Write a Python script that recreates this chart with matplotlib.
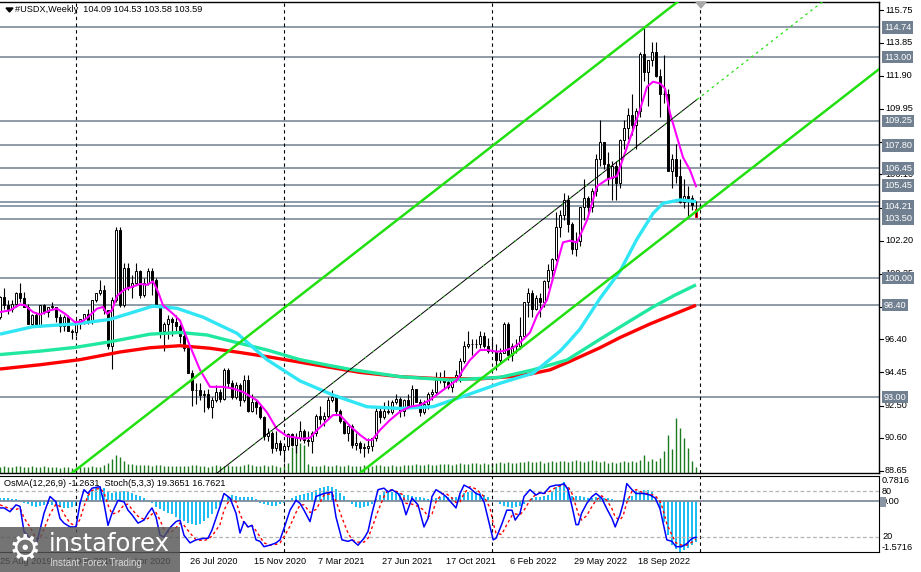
import matplotlib
matplotlib.use('Agg')
import matplotlib.pyplot as plt
import numpy as np
from matplotlib.patches import Rectangle, Polygon
from matplotlib.lines import Line2D
from matplotlib.transforms import blended_transform_factory

plt.rcParams['font.family'] = ['Liberation Sans', 'DejaVu Sans']

# ---- weekly candles, bar 0 = week of 25 Aug 2019 ----
opens = [
    97.7, 98.9, 98.4, 98.2, 98.5, 99.1, 98.8, 98.3, 97.3, 97.8,
    97.2, 98.4, 98.0, 98.3, 98.3, 97.7, 97.2, 97.7, 96.9, 96.8,
    97.4, 97.6, 97.9, 97.4, 98.7, 99.1, 99.3, 98.1, 96.0, 98.7,
    102.8, 98.4, 100.6, 99.5, 99.7, 100.4, 99.0, 99.7, 100.4, 99.9,
    98.3, 96.9, 97.3, 97.6, 97.4, 97.2, 96.6, 95.9, 94.4, 93.4,
    93.4, 93.1, 93.2, 92.4, 92.8, 93.3, 92.9, 94.6, 93.8, 93.0,
    93.7, 92.8, 94.0, 92.2, 92.7, 92.4, 91.8, 90.7, 90.9, 90.0,
    90.3, 89.9, 90.1, 90.8, 90.2, 90.6, 91.0, 90.5, 90.4, 90.9,
    91.9, 91.7, 91.9, 92.8, 93.0, 92.2, 91.6, 90.9, 91.3, 90.2,
    90.3, 90.0, 90.0, 90.1, 90.6, 92.2, 91.8, 92.2, 92.1, 92.7,
    92.9, 92.2, 92.8, 92.5, 93.5, 92.7, 92.1, 92.6, 93.2, 93.3,
    94.0, 94.1, 93.9, 93.6, 94.1, 94.3, 95.1, 96.0, 96.1, 96.1,
    96.1, 96.6, 96.0, 95.7, 95.7, 95.2, 95.6, 97.3, 95.5, 96.0,
    96.0, 96.6, 98.6, 99.1, 98.2, 98.8, 98.6, 99.8, 100.5, 101.1,
    103.0, 103.7, 104.6, 103.2, 101.7, 102.2, 104.2, 104.7, 104.2, 105.1,
    107.0, 108.0, 106.7, 105.9, 106.6, 105.6, 108.1, 108.8, 109.6, 109.0,
    109.8, 113.2, 112.1, 112.8, 113.3, 111.9, 110.8, 110.8, 106.3, 107.0,
    106.0, 104.5, 104.8, 104.7, 104.09]
highs = [
    98.95, 99.4, 98.7, 98.7, 99.2, 99.7, 99.2, 98.5, 97.9, 98.0,
    98.4, 98.5, 98.3, 98.6, 98.3, 97.9, 97.8, 97.8, 97.0, 97.6,
    97.6, 97.9, 98.2, 98.7, 99.1, 99.9, 99.6, 98.1, 98.9, 103.0,
    103.0, 100.9, 100.9, 100.2, 100.9, 100.5, 100.0, 100.6, 100.6, 100.0,
    98.4, 97.4, 97.8, 97.7, 97.8, 97.3, 96.9, 96.0, 94.6, 93.8,
    93.8, 93.4, 93.5, 93.0, 93.7, 93.5, 94.7, 94.7, 94.0, 93.9,
    93.8, 94.3, 94.3, 93.2, 92.8, 92.6, 91.9, 91.2, 91.0, 91.0,
    90.5, 90.1, 90.9, 90.9, 90.9, 91.6, 91.1, 91.0, 91.0, 92.0,
    92.5, 92.1, 93.0, 93.4, 93.0, 92.3, 91.7, 91.3, 91.4, 90.9,
    90.4, 90.3, 90.6, 90.6, 92.4, 92.4, 92.7, 92.8, 92.8, 93.2,
    93.0, 92.9, 93.2, 93.7, 93.5, 92.9, 92.8, 93.3, 93.5, 94.5,
    94.5, 94.6, 94.1, 94.2, 94.6, 95.3, 96.3, 96.9, 96.4, 96.4,
    96.9, 96.8, 96.5, 96.5, 96.1, 95.9, 97.4, 97.4, 96.2, 96.4,
    97.7, 98.6, 99.4, 99.3, 99.0, 99.1, 99.9, 100.8, 101.2, 103.9,
    104.0, 105.0, 104.9, 103.3, 102.7, 104.2, 105.8, 104.8, 105.3, 107.3,
    109.3, 108.0, 107.4, 106.9, 106.9, 108.2, 109.3, 110.0, 110.8, 110.0,
    113.3, 114.78, 112.8, 113.9, 113.9, 112.3, 113.1, 111.1, 107.3, 107.9,
    107.0, 105.8, 105.4, 104.9, 104.53]
lows = [
    97.6, 98.2, 97.9, 98.0, 98.3, 98.6, 98.3, 97.3, 97.2, 97.1,
    97.1, 97.9, 97.7, 98.2, 97.4, 96.8, 96.9, 96.9, 96.4, 96.6,
    97.0, 97.3, 97.3, 97.3, 98.6, 99.0, 97.9, 95.8, 94.65, 98.6,
    98.3, 98.3, 99.3, 98.8, 99.6, 98.8, 98.9, 99.6, 99.0, 98.3,
    96.5, 95.7, 96.4, 96.6, 96.8, 96.2, 95.7, 94.4, 92.5, 92.6,
    92.8, 92.1, 92.3, 91.75, 92.7, 92.7, 92.8, 93.6, 92.9, 92.9,
    92.5, 92.7, 92.1, 92.1, 92.0, 91.7, 90.5, 90.4, 89.7, 89.8,
    89.6, 89.2, 89.9, 90.1, 89.7, 90.4, 90.3, 90.1, 89.7, 90.7,
    91.4, 91.3, 91.7, 92.7, 92.0, 91.5, 90.8, 90.4, 90.0, 89.9,
    89.7, 89.5, 89.7, 89.8, 90.4, 91.5, 91.7, 92.0, 92.0, 92.6,
    91.8, 91.9, 92.5, 92.5, 92.7, 91.9, 92.0, 92.3, 92.8, 93.2,
    93.8, 93.5, 93.5, 93.3, 93.9, 93.9, 95.0, 95.9, 95.5, 95.9,
    95.9, 95.9, 95.6, 95.6, 94.6, 95.0, 95.6, 95.2, 95.1, 95.6,
    95.8, 96.6, 97.7, 97.7, 98.1, 97.7, 98.3, 99.4, 99.8, 101.0,
    102.4, 103.4, 102.7, 101.4, 101.3, 101.9, 103.4, 103.8, 103.9, 104.8,
    106.6, 106.4, 105.5, 104.6, 104.6, 105.3, 107.6, 108.2, 108.4, 107.6,
    109.5, 111.6, 110.1, 112.5, 111.8, 109.5, 110.3, 106.3, 105.3, 105.6,
    104.4, 104.1, 103.6, 104.0, 103.58]
closes = [
    98.9, 98.4, 98.2, 98.5, 99.1, 98.8, 98.3, 97.3, 97.8, 97.2,
    98.4, 98.0, 98.3, 98.3, 97.7, 97.2, 97.7, 96.9, 96.8, 97.4,
    97.6, 97.9, 97.4, 98.7, 99.1, 99.3, 98.1, 96.0, 98.7, 102.8,
    98.4, 100.6, 99.5, 99.7, 100.4, 99.0, 99.7, 100.4, 99.9, 98.3,
    96.9, 97.3, 97.6, 97.4, 97.2, 96.6, 95.9, 94.4, 93.4, 93.4,
    93.1, 93.2, 92.4, 92.8, 93.3, 92.9, 94.6, 93.8, 93.0, 93.7,
    92.8, 94.0, 92.2, 92.7, 92.4, 91.8, 90.7, 90.9, 90.0, 90.3,
    89.9, 90.1, 90.8, 90.2, 90.6, 91.0, 90.5, 90.4, 90.9, 91.9,
    91.7, 91.9, 92.8, 93.0, 92.2, 91.6, 90.9, 91.3, 90.2, 90.3,
    90.0, 90.0, 90.1, 90.6, 92.2, 91.8, 92.2, 92.1, 92.7, 92.9,
    92.2, 92.8, 92.5, 93.5, 92.7, 92.1, 92.6, 93.2, 93.3, 94.0,
    94.1, 93.9, 93.6, 94.1, 94.3, 95.1, 96.0, 96.1, 96.1, 96.1,
    96.6, 96.0, 95.7, 95.7, 95.2, 95.6, 97.3, 95.5, 96.0, 96.0,
    96.6, 98.6, 99.1, 98.2, 98.8, 98.6, 99.8, 100.5, 101.1, 103.0,
    103.7, 104.6, 103.2, 101.7, 102.2, 104.2, 104.7, 104.2, 105.1, 107.0,
    108.0, 106.7, 105.9, 106.6, 105.6, 108.1, 108.8, 109.6, 109.0, 109.8,
    113.2, 112.1, 112.8, 113.3, 111.9, 110.8, 110.8, 106.3, 107.0, 106.0,
    104.5, 104.8, 104.7, 104.3, 103.59]
volume = [
    6, 7, 6, 6, 7, 7, 6, 6, 7, 6, 6, 7, 6, 6, 6, 5, 6, 6, 5, 6,
    6, 6, 6, 7, 6, 6, 8, 10, 14, 18, 16, 12, 9, 9, 8, 8, 8, 8, 7, 8,
    8, 7, 7, 7, 7, 7, 7, 7, 8, 8, 7, 7, 6, 7, 8, 7, 7, 8, 7, 7,
    7, 8, 9, 8, 7, 7, 8, 7, 8, 7, 6, 7, 10, 26, 30, 30, 28, 9, 7, 7,
    7, 8, 7, 7, 8, 7, 7, 8, 7, 7, 7, 8, 7, 7, 8, 8, 7, 7, 8, 7,
    7, 8, 8, 8, 9, 8, 8, 9, 8, 8, 9, 9, 9, 8, 9, 10, 9, 9, 10, 10,
    9, 10, 9, 10, 10, 11, 10, 11, 10, 10, 11, 11, 12, 11, 11, 12, 10, 11, 12, 11,
    12, 12, 11, 12, 13, 12, 11, 12, 13, 12, 11, 12, 10, 11, 10, 11, 12, 11, 12, 11,
    13, 18, 12, 14, 12, 15, 22, 38, 24, 55, 45, 35, 25, 12, 6]

# ---- moving averages (bar, value) ----
ma_fast_bar = [0, 2.5, 5, 6.25, 8.25, 10, 12.5, 14.25, 16.25, 18.75, 20.5, 22, 24.25, 25.75,
               26.75, 28, 29.25, 31.25, 33.25, 35, 36.75, 38.25, 39.5, 40.75, 43.25, 45, 47.5,
               50, 52.5, 55.75, 58.25, 60.75, 64.25, 66.75, 69.25, 71.75, 75.75, 77.5, 79.25,
               81.25, 83.25, 85, 87.5, 90, 91.75, 93, 95, 97.5, 100, 102.5, 105, 107.5, 110.75,
               114.25, 115.75, 117.5, 120, 121.75, 124.25, 125.75, 128.25, 130, 132.5, 134.25,
               136.75, 138.25, 140.75, 142.5, 144.25, 146.75, 149.25, 151.75, 154.25, 156.75,
               158.25, 160, 161.75, 163.25, 165, 166.25, 167.5, 169.25, 170.75, 172.5, 174]
ma_fast_val = [98.0, 98.1, 98.45, 98.4, 98.0, 97.85, 98.1, 98.2, 97.9, 97.4, 97.45, 97.7, 98.2,
               98.3, 97.9, 98.1, 98.95, 99.35, 99.5, 99.65, 99.6, 99.8, 99.2, 98.4, 97.9, 97.5,
               96.0, 94.6, 93.6, 93.6, 93.5, 93.3, 92.8, 92.1, 91.1, 90.7, 90.55, 90.6, 91.05,
               91.5, 91.94, 91.94, 91.3, 90.77, 90.47, 90.47, 91.06, 91.65, 92.14, 92.43, 92.53,
               92.83, 93.41, 94.0, 94.6, 95.18, 95.77, 95.77, 95.67, 95.7, 95.9, 96.2, 96.8,
               97.8, 98.7, 100.0, 102.1, 102.2, 102.1, 103.4, 105.4, 105.8, 106.0, 107.7, 108.7,
               109.9, 111.25, 111.55, 111.45, 111.15, 109.7, 108.3, 107.1, 106.35, 105.4]
ma50_bar = [0, 8.25, 18.75, 27.5, 38.25, 44.25, 50.75, 59.25, 66.75, 75, 83.25, 91.75, 100,
            108.25, 116.75, 125, 133.25, 140, 142, 145, 147.5, 150, 155, 159.25, 163.25,
            165.75, 170, 174]
ma50_val = [96.7, 97.14, 97.3, 97.57, 98.35, 98.22, 97.7, 96.75, 95.2, 93.95, 93.12, 92.43,
            92.33, 92.43, 93.12, 93.81, 94.4, 95.7, 96.2, 97.0, 97.9, 98.8, 100.4, 102.3,
            103.8, 104.4, 104.6, 104.5]
ma144_bar = [0, 10, 18.75, 27.5, 37.5, 45, 51.75, 58.25, 66.75, 75, 82.5, 87.5, 100, 112.5,
             125, 133.25, 141.75, 150, 156.25, 163.25, 168.75, 174]
ma144_val = [95.5, 95.7, 95.92, 96.25, 96.7, 96.8, 96.65, 96.26, 95.77, 95.2, 94.85, 94.63,
             94.2, 94.0, 94.16, 94.6, 95.18, 96.4, 97.3, 98.3, 99.0, 99.6]
ma200_bar = [0, 10, 20, 30, 37.5, 45, 52.5, 60, 67.5, 75, 82.5, 90, 100, 110, 120, 127.5,
             132.5, 137.5, 142.5, 150, 155, 162.5, 168.75, 174]
ma200_val = [94.65, 94.9, 95.2, 95.65, 95.9, 96.02, 95.87, 95.62, 95.35, 95.05, 94.75, 94.45,
             94.2, 94.08, 94.07, 94.2, 94.35, 94.6, 95.1, 95.9, 96.5, 97.3, 97.9, 98.4]

# ---- equidistant channel anchors (bar, price) ----
chan_upper = ([30, 160], [90.73, 114.53])
chan_mid = ([70, 174], [91.41, 110.46])
chan_lower = ([100, 174], [90.36, 103.91])
chan_mid_end = 174.25

# ---- horizontal levels ----
levels = [114.74, 113.00, 109.25, 107.80, 106.45, 105.45, 104.45, 104.21, 103.50, 100.00, 98.40, 93.00]
level_tagged = [True, True, True, True, True, True, False, True, True, True, True, True]
price_ticks = [88.65, 90.60, 92.50, 94.45, 96.40, 98.30, 100.25, 102.20, 104.15, 106.10,
               108.00, 109.95, 111.90, 113.85, 115.75]

year_bars = [19, 71, 123, 175]
date_bars = [0, 16, 32, 48, 64, 80, 96, 112, 128, 144, 160]
date_labels = ['25 Aug 2019', '15 Dec 2019', '5 Apr 2020', '26 Jul 2020', '15 Nov 2020',
               '7 Mar 2021', '27 Jun 2021', '17 Oct 2021', '6 Feb 2022', '29 May 2022',
               '18 Sep 2022']

# ---- OsMA histogram and stochastic ----
osma = [
    0.09, 0.10, 0.09, 0.08, 0.07, 0.04,
    -0.05, -0.10, -0.15, -0.18, -0.16, -0.12, -0.10, -0.12, -0.15, -0.18, -0.20, -0.20, -0.18, -0.14, -0.10,
    0.05, 0.20, 0.32, 0.40, 0.45, 0.42, 0.30,
    0.25, 0.28, 0.32, 0.33, 0.30, 0.26,
    0.20, 0.15, 0.10, 0.05,
    -0.05, -0.18, -0.25,
    -0.30, -0.35, -0.40, -0.48, -0.55, -0.62, -0.68,
    -0.72, -0.73, -0.70, -0.62, -0.52, -0.40, -0.25, -0.12,
    0.05, 0.15, 0.18, 0.17, 0.14,
    0.14, 0.12, 0.12, 0.08,
    -0.05, -0.10, -0.13, -0.15, -0.14, -0.10, -0.05,
    0.05, 0.10, 0.15, 0.20, 0.22, 0.25, 0.30, 0.35, 0.40, 0.44, 0.47, 0.45, 0.38,
    0.25, 0.15, 0.05,
    -0.10, -0.17, -0.20, -0.19, -0.15, -0.08,
    0.08, 0.20, 0.28, 0.30, 0.30, 0.27,
    0.24, 0.20, 0.18, 0.15, 0.14, 0.12, 0.10, 0.08, 0.08,
    0.10, 0.14, 0.15, 0.14, 0.12, 0.12,
    0.20, 0.26, 0.30, 0.30, 0.28, 0.25,
    0.20, 0.12, 0.05, -0.02,
    -0.10, -0.15, -0.18, -0.20, -0.18, -0.15, -0.08,
    0.05, 0.10, 0.12, 0.13,
    0.15, 0.20, 0.30, 0.45, 0.52, 0.60, 0.45,
    0.15, 0.15, 0.15, 0.13, 0.11, 0.10, 0.12, 0.12, 0.10, 0.10, 0.08, 0.05, 0.04,
    0.08, 0.10, 0.15, 0.32,
    0.33, 0.35, 0.34, 0.30, 0.12,
    -0.25, -0.65, -1.05, -1.35, -1.48, -1.57, -1.52, -1.45, -1.36, -1.2631]

stoch_bar = [0, 1, 2.5, 4, 5, 6, 7.5, 9, 10, 11, 12.5, 14, 15, 16, 17.5, 19, 20, 21, 22, 23, 25,
             26, 27, 28, 29.5, 31, 32, 33, 34.5, 36, 37, 38, 39, 40, 41, 42.5, 44, 45, 46, 47.5,
             49, 51, 52, 53, 55, 56, 57.5, 59, 60, 61, 62, 63, 64, 65, 66, 67.5, 69, 70, 71,
             72.5, 74, 75, 76, 77.5, 79, 80, 81, 83, 84, 85.5, 87, 88, 89.5, 91, 92, 93, 94.5,
             96, 97, 98, 99.5, 100.5, 101.5, 103, 104.5, 106, 107, 108, 109, 110.5, 111.5, 113,
             114, 115, 116, 117.5, 119, 120, 121, 122.5, 123.3, 124, 125.4, 126.7, 128, 128.8,
             130, 131, 132.5, 134, 135, 136, 137.5, 139, 140, 141, 142, 143, 144, 144.6, 145.4,
             146.7, 148, 149, 150.4, 151.7, 153, 153.8, 155, 155.8, 156.7, 158, 159, 160.8,
             162.5, 163.8, 165, 165.8, 166.7, 168, 169, 170.4, 171.7, 173, 174]
stoch_main = [58, 58, 53, 62, 60, 27, 18, 9, 29, 51, 73, 66, 44, 38, 33, 33, 64, 82, 77, 84, 86,
              64, 35, 51, 68, 66, 55, 49, 38, 42, 51, 58, 46, 22, 20, 32, 40, 42, 22, 12,
              16, 18, 18, 29, 60, 77, 71, 51, 25, 40, 33, 35, 16, 14, 7, 9, 12, 16, 31,
              55, 68, 64, 55, 40, 73, 75, 77, 79, 46, 16, 14, 16, 9, 18, 27, 51, 82,
              84, 79, 82, 77, 68, 49, 71, 62, 33, 44, 73, 82, 77, 73, 64,
              58, 77, 88, 84, 77, 75, 66, 33, 16, 18, 36, 55, 55, 42,
              51, 73, 82, 75, 78, 77, 86, 88, 88, 90, 82, 60, 36, 36, 51,
              64, 73, 77, 71, 57, 44, 33, 49, 64, 90, 82, 77, 77,
              75, 71, 57, 38, 16, 14, 7, 7, 11, 18, 19.37]
stoch_sig = [62, 60, 57, 56, 58, 45, 33, 18, 18, 30, 50, 63, 60, 50, 38, 34, 43, 60, 74, 81, 84,
             78, 62, 50, 52, 62, 63, 56, 47, 43, 44, 50, 52, 42, 30, 25, 32, 38, 35, 25,
             16, 15, 17, 21, 36, 55, 70, 66, 50, 38, 33, 35, 28, 20, 12, 9, 10, 12, 20,
             34, 52, 62, 62, 52, 56, 65, 75, 77, 67, 45, 25, 16, 13, 13, 18, 32, 54,
             73, 82, 81, 79, 76, 64, 63, 60, 55, 46, 50, 66, 77, 77, 71,
             65, 66, 77, 86, 83, 78, 73, 58, 38, 25, 23, 36, 48, 50,
             49, 55, 68, 76, 78, 77, 80, 85, 87, 88, 86, 77, 60, 50, 42,
             48, 60, 68, 74, 68, 57, 46, 42, 48, 65, 80, 82, 78,
             76, 74, 67, 55, 37, 22, 12, 9, 9, 13, 16.76]

# ---------------------------------------------------------------------------
W, H = 921, 572
fig = plt.figure(figsize=(W / 100, H / 100), dpi=100)
fig.patch.set_facecolor('white')


def fx(px):
    return px / W


def fy(py):
    return 1 - py / H


XMIN, XMAX = 0, 219.75
main_rect = [0, fy(473), fx(879), (473 - 2) / H]
ind_rect = [0, fy(552), fx(879), (552 - 476) / H]
LEVEL_GRAY = '#708090'
FS = 6.6

# volume underneath everything in the main window
ax_vol = fig.add_axes(main_rect)
ax_vol.set_xlim(XMIN, XMAX)
ax_vol.set_ylim(0, max(volume) * 8.6)
ax_vol.axis('off')
idx = np.arange(len(closes))
ax_vol.vlines(idx, 0, volume, color='#1E7A1E', lw=1.0)

ax = fig.add_axes(main_rect)
ax.patch.set_alpha(0)
ax.set_xlim(XMIN, XMAX)
ax.set_ylim(88.532, 116.24)
ax.set_xticks([])
ax.set_yticks([])
ax.spines['left'].set_visible(False)
for s in ['top', 'right', 'bottom']:
    ax.spines[s].set_color('black')
    ax.spines[s].set_linewidth(1)

for lev in levels:
    ax.axhline(lev, color=LEVEL_GRAY, lw=1.1, zorder=1)
for b in year_bars:
    ax.axvline(b, color='black', lw=0.8, ls=(0, (3, 3)), zorder=2)

# candles
o, hi, lo, c = map(np.array, (opens, highs, lows, closes))
ax.vlines(idx, lo, hi, color='black', lw=0.8, zorder=3)
up = c >= o
body_bottom = np.minimum(o, c)
body_height = np.maximum(np.abs(c - o), 0.04)
edge = ['black'] * len(idx)
edge[-1] = 'red'
ax.bar(idx, body_height, bottom=body_bottom, width=0.62,
       color=np.where(up, 'white', 'black'), edgecolor=edge, linewidth=0.7, zorder=3)

# moving averages
ax.plot(ma200_bar, ma200_val, color='#FF0000', lw=2.4, zorder=4, solid_capstyle='butt')
ax.plot(ma144_bar, ma144_val, color='#20E8A0', lw=2.4, zorder=4, solid_capstyle='butt')
ax.plot(ma50_bar, ma50_val, color='#30E6F5', lw=2.4, zorder=4, solid_capstyle='butt')
ax.plot(ma_fast_bar, ma_fast_val, color='#FF00FF', lw=1.5, zorder=5)


def chan_line(anchor, x0, x1):
    (b1, b2), (p1, p2) = anchor
    k = (p2 - p1) / (b2 - b1)
    return [x0, x1], [p1 + k * (x0 - b1), p1 + k * (x1 - b1)]


CH_GREEN = '#22E010'
xs, ys = chan_line(chan_upper, XMIN, XMAX)
ax.plot(xs, ys, color=CH_GREEN, lw=1.8, zorder=6)
xs, ys = chan_line(chan_lower, XMIN, XMAX)
ax.plot(xs, ys, color=CH_GREEN, lw=1.8, zorder=6)
xs, ys = chan_line(chan_mid, XMIN, chan_mid_end)
ax.plot(xs, ys, color='black', lw=0.7, zorder=6)
ax.plot(xs, ys, color=CH_GREEN, lw=0.9, ls=(0, (1, 7)), zorder=6)
xs, ys = chan_line(chan_mid, chan_mid_end, XMAX)
ax.plot(xs, ys, color=CH_GREEN, lw=0.9, ls=(0, (2, 3)), zorder=6)

# right price scale
tr_main = blended_transform_factory(fig.transFigure, ax.transData)
for p in price_ticks:
    ax.add_line(Line2D([fx(879), fx(883)], [p, p], transform=tr_main, color='black',
                       lw=0.8, clip_on=False))
    ax.text(fx(885), p, f'{p:.2f}', transform=tr_main, fontsize=FS, va='center',
            ha='left', clip_on=False, zorder=7)
for lev, tag in zip(levels, level_tagged):
    if tag:
        ax.text(fx(884), lev, f'{lev:.2f}', transform=tr_main, fontsize=FS, va='center',
                ha='left', color='white', clip_on=False, zorder=8,
                bbox=dict(boxstyle='square,pad=0.18', fc=LEVEL_GRAY, ec='none'))

# ---- indicator window ----
ax_h = fig.add_axes(ind_rect)
ax_h.set_xlim(XMIN, XMAX)
ax_h.set_ylim(-1.5716, 0.7816)
ax_h.set_xticks([])
ax_h.set_yticks([])
ax_h.spines['left'].set_visible(False)
ax_h.bar(idx, osma, width=0.62, color='#1EBEF5', zorder=2)
ax_h.axhline(0, color='#7F8C9C', lw=1.3, zorder=3)
for b in year_bars:
    ax_h.axvline(b, color='black', lw=0.8, ls=(0, (3, 3)), zorder=2)

ax_s = fig.add_axes(ind_rect)
ax_s.patch.set_alpha(0)
ax_s.set_xlim(XMIN, XMAX)
ax_s.set_ylim(0, 100)
ax_s.axis('off')
ax_s.axhline(80, color='#B4B4B4', lw=0.9, ls=(0, (3, 2)), zorder=1)
ax_s.axhline(20, color='#B4B4B4', lw=0.9, ls=(0, (3, 2)), zorder=1)
ax_s.plot(stoch_bar, stoch_sig, color='#FF0000', lw=1.0, ls=(0, (2, 2)), zorder=4)
ax_s.plot(stoch_bar, stoch_main, color='#0000FF', lw=1.1, zorder=5)

tr_h = blended_transform_factory(fig.transFigure, ax_h.transData)
tr_s = blended_transform_factory(fig.transFigure, ax_s.transData)
fig.add_artist(Rectangle((fx(880), fy(507)), fx(6), 10 / H, transform=fig.transFigure,
                         fc='#8A96A4', ec='none'))
ax_h.text(fx(882), 0.7816, '0.7816', transform=tr_h, fontsize=FS, va='top', clip_on=False)
ax_h.text(fx(882), 0.0, '0.00', transform=tr_h, fontsize=FS, va='center', clip_on=False)
ax_h.text(fx(882), -1.5716, '-1.5716', transform=tr_h, fontsize=FS, va='bottom', clip_on=False)
ax_s.text(fx(882), 80, '80', transform=tr_s, fontsize=FS, va='center', clip_on=False)
ax_s.text(fx(882), 20, '20', transform=tr_s, fontsize=FS, va='center', clip_on=False)

fig.text(fx(4), fy(484), 'OsMA(12,26,9) -1.2631  Stoch(5,3,3) 19.3651 16.7621',
         fontsize=FS, va='center')

# ---- header ----
fig.add_artist(Polygon([[fx(6), fy(8)], [fx(13), fy(8)], [fx(9.5), fy(12)]], closed=True,
                       color='black', transform=fig.transFigure))
fig.text(fx(15), fy(10), '#USDX,Weekly  104.09 104.53 103.58 103.59', fontsize=FS,
         va='center')
fig.add_artist(Polygon([[fx(696), fy(2)], [fx(706), fy(2)], [fx(701), fy(8)]], closed=True,
                       color='#A8A8A8', transform=fig.transFigure))

# ---- date axis ----
for b, lab in zip(date_bars, date_labels):
    fig.text(fx(max(4 * b - 2, 0)), fy(562), lab, fontsize=FS, va='center', ha='left')

# ---- watermark ----
fig.add_artist(Rectangle((0, 0), fx(180), (572 - 527) / H, transform=fig.transFigure,
                         fc='#555555', ec='none', alpha=0.82, zorder=10))
fig.text(fx(25), fy(549), '\u2699', fontsize=26, color='white', ha='center', va='center',
         family='DejaVu Sans', zorder=11)
fig.text(fx(49), fy(544), 'instaforex', fontsize=17.5, color='white', ha='left',
         va='center', family='DejaVu Sans', zorder=11)
fig.text(fx(50), fy(563), 'Instant Forex Trading', fontsize=7, color='#D8D8D8', ha='left',
         va='center', zorder=11)

fig.savefig('out.png', dpi=100)
